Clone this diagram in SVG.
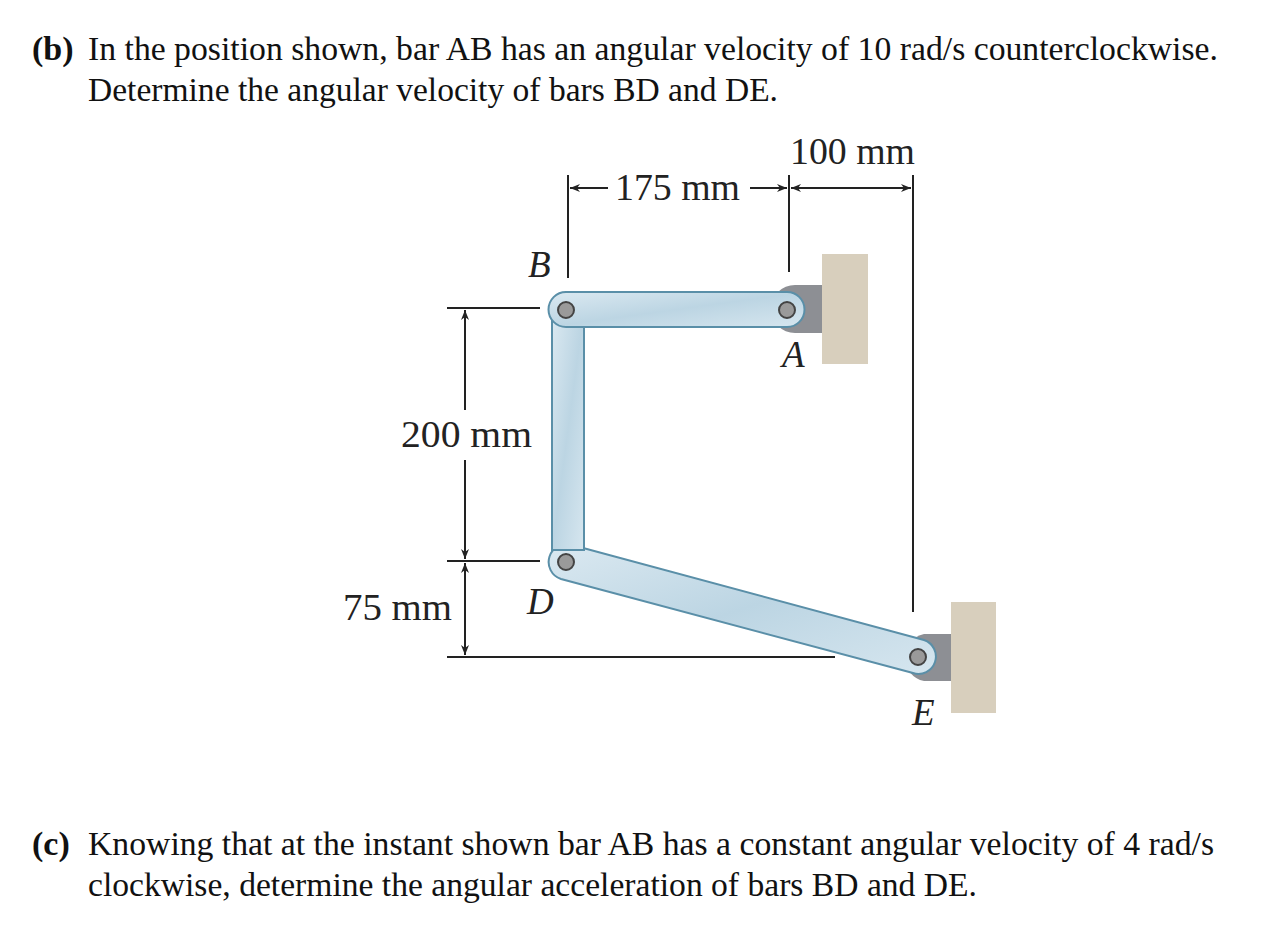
<svg xmlns="http://www.w3.org/2000/svg" width="1280" height="942" viewBox="0 0 1280 942">
<defs>
<style>
.t{font-family:"Liberation Serif",serif;font-size:34px;fill:#111}
.b{font-family:"Liberation Serif",serif;font-size:34px;fill:#111;font-weight:bold}
.l{font-family:"Liberation Serif",serif;font-size:37px;fill:#222}
.i{font-style:italic}
.d{stroke:#222;stroke-width:2;fill:none}
.bar{fill:url(#bg);stroke:#5a8fa8;stroke-width:2}
.pin{fill:#9a9a9a;stroke:#444;stroke-width:2}
.wall{fill:#d8cfbd}
.brk{fill:#8d8f94}
</style>
<linearGradient id="bg" x1="0" y1="0" x2="1" y2="1"><stop offset="0" stop-color="#dbe9f1"/><stop offset="0.5" stop-color="#bcd5e3"/><stop offset="1" stop-color="#d6e6ef"/></linearGradient>
<marker id="ar" viewBox="0 0 10 10" refX="10" refY="5" markerWidth="20" markerHeight="10" orient="auto-start-reverse" markerUnits="userSpaceOnUse"><path d="M0,1 L10,5 L0,9 L3,5 Z" fill="#222"/></marker>
</defs>
<rect width="1280" height="942" fill="#fff"/>
<g id="text">
<text class="b" x="32" y="60">(b)</text>
<text class="t" x="88" y="60" textLength="1130" lengthAdjust="spacingAndGlyphs">In the position shown, bar AB has an angular velocity of 10 rad/s counterclockwise.</text>
<text class="t" x="88" y="101" textLength="690" lengthAdjust="spacingAndGlyphs">Determine the angular velocity of bars BD and DE.</text>
<text class="b" x="32" y="855">(c)</text>
<text class="t" x="88" y="855" textLength="1126" lengthAdjust="spacingAndGlyphs">Knowing that at the instant shown bar AB has a constant angular velocity of 4 rad/s</text>
<text class="t" x="88" y="896" textLength="889" lengthAdjust="spacingAndGlyphs">clockwise, determine the angular acceleration of bars BD and DE.</text>
</g>
<g id="dimensions">
<line class="d" x1="568" y1="175" x2="568" y2="278"/>
<line class="d" x1="789" y1="175" x2="789" y2="272"/>
<line class="d" x1="913" y1="175" x2="913" y2="612"/>
<line class="d" x1="608" y1="188" x2="570" y2="188" marker-end="url(#ar)"/>
<line class="d" x1="750" y1="188" x2="787" y2="188" marker-end="url(#ar)"/>
<line class="d" x1="791" y1="188" x2="911" y2="188" marker-start="url(#ar)" marker-end="url(#ar)"/>
<text class="l" x="615" y="200" textLength="125" lengthAdjust="spacingAndGlyphs">175 mm</text>
<text class="l" x="790" y="164" textLength="125" lengthAdjust="spacingAndGlyphs">100 mm</text>
<line class="d" x1="447" y1="308" x2="540" y2="308"/>
<line class="d" x1="447" y1="561" x2="540" y2="561"/>
<line class="d" x1="447" y1="657" x2="835" y2="657"/>
<line class="d" x1="465" y1="410" x2="465" y2="310" marker-end="url(#ar)"/>
<line class="d" x1="465" y1="460" x2="465" y2="559" marker-end="url(#ar)"/>
<line class="d" x1="465" y1="655" x2="465" y2="563" marker-end="url(#ar)" marker-start="url(#ar)"/>
<text class="l" x="401" y="447" textLength="131" lengthAdjust="spacingAndGlyphs">200 mm</text>
<text class="l" x="343" y="620" textLength="109" lengthAdjust="spacingAndGlyphs">75 mm</text>
</g>
<g id="wallA"><rect class="wall" x="822" y="254" width="46" height="110"/><path class="brk" d="M822,285 H795 A24,24 0 0 0 795,333 H822 Z"/></g>
<g id="wallE"><rect class="wall" x="951" y="602" width="45" height="111"/><path class="brk" d="M951,634 H924 A24,24 0 0 0 924,681 H951 Z"/></g>
<g id="barDE"><path class="bar" d="M572,545 L924,640 A17,17 0 0 1 913,673 L561,579 A17,17 0 0 1 572,545 Z"/></g>
<g id="barBD"><rect class="bar" x="552" y="310" width="32" height="240"/></g>
<g id="barAB"><path class="bar" d="M566,292 H787 A17.5,17.5 0 0 1 787,327 H566 A17.5,17.5 0 0 1 566,292 Z"/></g>
<g id="pins">
<circle class="pin" cx="566" cy="310" r="8"/>
<circle class="pin" cx="787" cy="310" r="8"/>
<circle class="pin" cx="566" cy="562" r="8"/>
<circle class="pin" cx="918" cy="657" r="8"/>
</g>
<g id="labels">
<text class="l i" x="528" y="277">B</text>
<text class="l i" x="782" y="367">A</text>
<text class="l i" x="527" y="614">D</text>
<text class="l i" x="912" y="725">E</text>
</g>
</svg>
